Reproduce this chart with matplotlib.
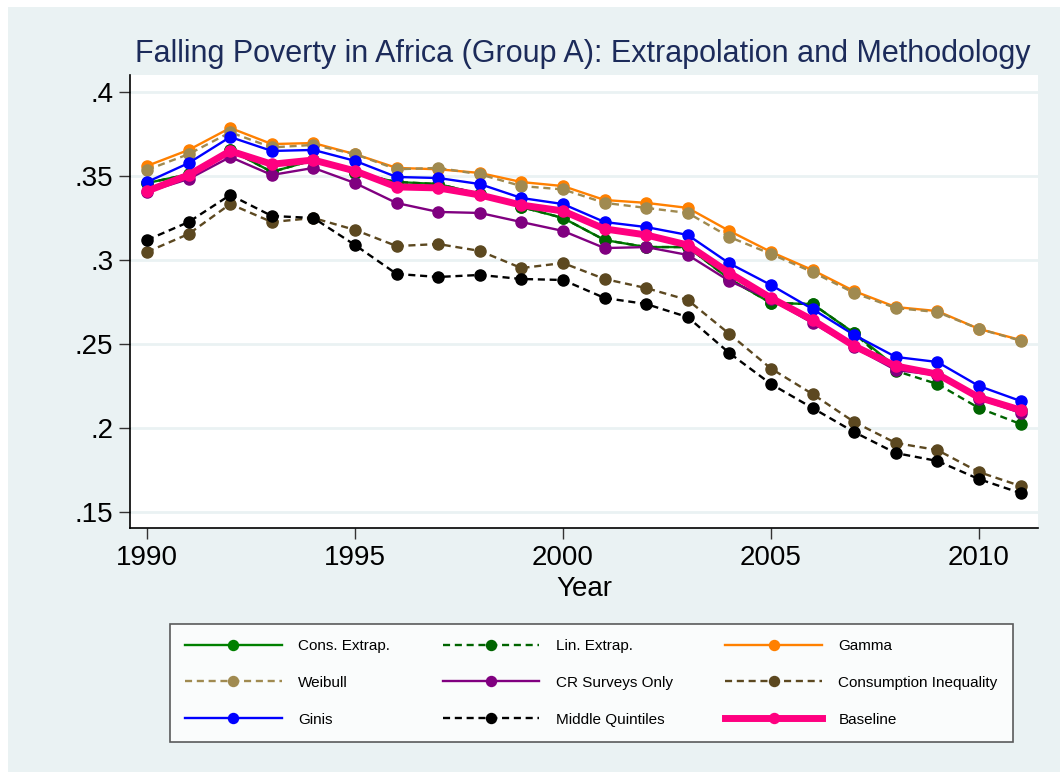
import matplotlib
matplotlib.use('Agg')
import matplotlib.pyplot as plt
from matplotlib.patches import Rectangle

plt.rcParams['font.family'] = ['Liberation Sans', 'DejaVu Sans']

years = list(range(1990, 2012))

cons_extrap = [.3458, .351, .3655, .3524, .3595, .3518, .3464, .3452, .3393, .3315, .325,
               .3119, .3077, .3077, .2887, .2744, .2738, .2565, .2365, .232, .2182, .2105]
lin_extrap = [.3458, .351, .3655, .3524, .3595, .3518, .3464, .3452, .3393, .3315, .325,
              .3119, .3077, .3077, .2887, .2744, .2738, .2565, .2340, .2262, .2119, .2024]
gamma = [.356, .3655, .3786, .369, .3696, .363, .3548, .354, .3518, .3464, .344,
         .3357, .334, .331, .3173, .3048, .294, .2815, .272, .2696, .259, .2524]
weibull = [.3536, .363, .376, .367, .3685, .363, .354, .3548, .351, .344, .342,
           .334, .331, .328, .3137, .3036, .2928, .2804, .2714, .269, .259, .252]
cr_surveys = [.3405, .3482, .3613, .3506, .3548, .3458, .3339, .3286, .328, .3226, .3173,
              .3071, .3077, .303, .2875, .2765, .2625, .248, .2345, .2315, .2175, .209]
cons_ineq = [.3048, .3155, .3333, .3226, .325, .3179, .3083, .3095, .3054, .2952, .2982,
             .2887, .2833, .2762, .256, .2354, .2202, .2036, .1911, .1869, .1738, .1655]
ginis = [.3464, .3577, .3732, .3649, .3655, .359, .3494, .3488, .3452, .3369, .3333,
         .3226, .3196, .3149, .298, .2851, .2708, .2554, .2423, .2393, .225, .2161]
mid_quint = [.3119, .3226, .3387, .3262, .325, .3089, .2917, .2899, .2911, .2887, .2881,
             .2774, .2738, .266, .2446, .2262, .2119, .1976, .1851, .1804, .1696, .1613]
baseline = [.341, .3506, .3649, .357, .3595, .353, .3435, .3429, .3387, .3327, .3292,
            .3185, .3149, .3089, .2923, .2774, .2643, .2488, .2369, .2321, .2182, .2107]

yticks = [.15, .2, .25, .3, .35, .4]
ytick_labels = ['.15', '.2', '.25', '.3', '.35', '.4']
xticks = [1990, 1995, 2000, 2005, 2010]

bg = '#eaf2f3'

fig = plt.figure(figsize=(10.6, 7.72), dpi=100, facecolor='white')
fig.patches.append(Rectangle((8 / 1060, 0), 1, 1 - 7 / 772, transform=fig.transFigure,
                             facecolor=bg, edgecolor='none', zorder=-10))
ax = fig.add_axes([130 / 1060, 1 - 528 / 772, 908 / 1060, 453 / 772])
ax.set_facecolor('white')

series = [
    ('Cons. Extrap.', cons_extrap, '#008000', '-', 1.7),
    ('Lin. Extrap.', lin_extrap, '#006400', '--', 1.7),
    ('Gamma', gamma, '#ff8000', '-', 1.7),
    ('Weibull', weibull, '#a08a50', '--', 1.7),
    ('CR Surveys Only', cr_surveys, '#800080', '-', 1.7),
    ('Consumption Inequality', cons_ineq, '#5c4820', '--', 1.7),
    ('Ginis', ginis, '#0000ff', '-', 1.7),
    ('Middle Quintiles', mid_quint, '#000000', '--', 1.7),
    ('Baseline', baseline, '#ff0080', '-', 5),
]
draw_order = [5, 7, 4, 0, 1, 3, 2, 6, 8]
handles = {}
for i in draw_order:
    name, vals, col, ls, lw = series[i]
    h, = ax.plot(years, vals, color=col, linestyle=ls, linewidth=lw, marker='o',
                 markersize=8, dashes=(3, 2) if ls == '--' else (None, None),
                 label=name, zorder=3 + i * 0.1)
    handles[i] = h

ax.set_xlim(1989.59, 2011.42)
ax.set_ylim(0.1405, 0.4101)
ax.set_yticks(yticks)
ax.set_yticklabels(ytick_labels)
ax.set_xticks(xticks)
ax.tick_params(axis='both', labelsize=20, length=8, width=1, color='#333333', pad=4)
ax.grid(axis='y', color=bg, linewidth=2)
ax.set_axisbelow(True)
for s in ['top', 'right']:
    ax.spines[s].set_visible(False)
ax.spines['left'].set_linewidth(1.2)
ax.spines['bottom'].set_linewidth(1.2)

ax.set_xlabel('Year', fontsize=20, labelpad=4)
fig.text(583 / 1060, 1 - 54 / 772, 'Falling Poverty in Africa (Group A): Extrapolation and Methodology',
         ha='center', va='center', fontsize=22, color='#1c2b5a')

# legend is filled column-wise, so reorder to read row-wise like the original
order = [0, 3, 6, 1, 4, 7, 2, 5, 8]
leg = fig.legend([handles[i] for i in order], [series[i][0] for i in order],
                 loc='lower left', bbox_to_anchor=(170 / 1060, 1 - 742 / 772, 843 / 1060, 122 / 772),
                 mode='expand', ncol=3, fontsize=11, frameon=True, fancybox=False,
                 handlelength=6.3, handletextpad=1.1, labelspacing=1.5, borderaxespad=0,
                 borderpad=1.0, markerscale=0.9)
leg.get_frame().set_edgecolor('#333333')
leg.get_frame().set_linewidth(1.2)

fig.savefig('out.png', dpi=100, facecolor='white')
